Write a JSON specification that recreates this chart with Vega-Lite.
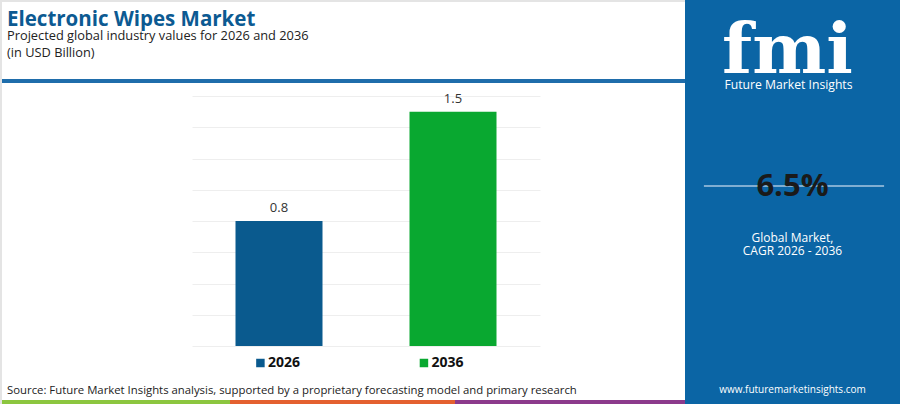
{
  "$schema": "https://vega.github.io/schema/vega-lite/v6.json",
  "description": "Electronic Wipes Market, projected global industry values for 2026 and 2036.",
  "background": "white",
  "padding": 0,
  "config": {
    "view": {"stroke": null},
    "font": "Open Sans",
    "concat": {"spacing": 0}
  },
  "datasets": {
    "market": [
      {"year": "2026", "value": 0.8},
      {"year": "2036", "value": 1.5}
    ]
  },
  "spacing": 0,
  "hconcat": [
    {"width": 2, "height": 404, "view": {"fill": "#e4e4e4"}, "data": {"values": []}, "mark": "point"},
    {
      "spacing": 0,
      "vconcat": [
        {"width": 683, "height": 2, "view": {"fill": "#e4e4e4"}, "data": {"values": []}, "mark": "point"},
        {"width": 683, "height": 7, "data": {"values": []}, "mark": "point"},
        {
          "width": 683,
          "height": 4,
          "view": {"fill": "#1f6dab"},
          "data": {"values": []},
          "mark": "point",
          "title": {
            "text": "Electronic Wipes Market",
            "subtitle": ["Projected global industry values for 2026 and 2036", "(in USD Billion)"],
            "anchor": "start",
            "dx": 5,
            "offset": 19,
            "font": "Open Sans",
            "fontSize": 20.5,
            "fontWeight": "bold",
            "color": "#0c5a92",
            "subtitleFont": "Open Sans",
            "subtitleFontSize": 12.8,
            "subtitleColor": "#222222",
            "subtitlePadding": 0,
            "subtitleLineHeight": 17
          }
        },
        {"width": 683, "height": 9, "data": {"values": []}, "mark": "point"},
        {
          "spacing": 0,
          "hconcat": [
            {"width": 190, "height": 250, "data": {"values": []}, "mark": "point"},
            {
              "width": 348,
              "height": 250,
              "data": {"name": "market"},
              "encoding": {
                "x": {
                  "field": "year",
                  "type": "nominal",
                  "axis": null,
                  "scale": {"paddingInner": 0.5, "paddingOuter": 0.25}
                },
                "y": {
                  "field": "value",
                  "type": "quantitative",
                  "scale": {"domain": [0, 1.6], "nice": false},
                  "axis": {
                    "values": [0, 0.2, 0.4, 0.6, 0.8, 1.0, 1.2, 1.4, 1.6],
                    "labels": false,
                    "ticks": false,
                    "domain": false,
                    "grid": true,
                    "gridColor": "#eeeeee",
                    "title": null
                  }
                }
              },
              "layer": [
                {
                  "mark": {"type": "bar"},
                  "encoding": {
                    "color": {
                      "field": "year",
                      "type": "nominal",
                      "scale": {"range": ["#0a5a8e", "#09a830"]},
                      "legend": null
                    }
                  }
                },
                {
                  "mark": {"type": "text", "baseline": "bottom", "dy": -6, "fontSize": 13, "color": "#333333"},
                  "encoding": {"text": {"field": "value", "type": "quantitative", "format": ".1f"}}
                }
              ]
            },
            {"width": 145, "height": 250, "data": {"values": []}, "mark": "point"}
          ]
        },
        {
          "spacing": 0,
          "hconcat": [
            {"width": 190, "height": 34, "data": {"values": []}, "mark": "point"},
            {
              "width": 348,
              "height": 34,
              "data": {"name": "market"},
              "encoding": {
                "x": {
                  "field": "year",
                  "type": "nominal",
                  "axis": null,
                  "scale": {"type": "point", "padding": 0.564, "align": 0.463}
                }
              },
              "layer": [
                {
                  "mark": {"type": "point", "shape": "square", "filled": true, "size": 72, "opacity": 1},
                  "encoding": {
                    "color": {
                      "field": "year",
                      "type": "nominal",
                      "scale": {"range": ["#0a5a8e", "#09a830"]},
                      "legend": null
                    },
                    "xOffset": {"value": -17}
                  }
                },
                {
                  "mark": {"type": "text", "align": "left", "baseline": "middle", "dx": -9.5, "fontSize": 14, "fontWeight": "bold", "color": "#111111"},
                  "encoding": {"text": {"field": "year"}}
                }
              ]
            },
            {"width": 145, "height": 34, "data": {"values": []}, "mark": "point"}
          ]
        },
        {"width": 683, "height": 4, "data": {"values": []}, "mark": "point"},
        {
          "spacing": 0,
          "title": {
            "text": "Source: Future Market Insights analysis, supported by a proprietary forecasting model and primary research",
            "anchor": "start",
            "dx": 5,
            "offset": 4,
            "font": "Open Sans",
            "fontSize": 11.35,
            "fontWeight": "normal",
            "color": "#222222"
          },
          "hconcat": [
            {"width": 228, "height": 5, "view": {"fill": "#8cc63f"}, "data": {"values": []}, "mark": "point"},
            {"width": 225, "height": 5, "view": {"fill": "#e4602f"}, "data": {"values": []}, "mark": "point"},
            {"width": 230, "height": 5, "view": {"fill": "#8c3a8c"}, "data": {"values": []}, "mark": "point"}
          ]
        }
      ]
    },
    {
      "spacing": 0,
      "vconcat": [
        {
          "width": 215,
          "height": 166,
          "view": {"fill": "#0b65a5"},
          "data": {"values": [{"logo": "fmi", "brand": "Future Market Insights"}]},
          "layer": [
            {
              "mark": {"type": "text", "font": "DejaVu Serif", "fontWeight": "bold", "fontSize": 70, "color": "white", "baseline": "alphabetic", "dx": -5, "dy": -10},
              "encoding": {"text": {"field": "logo"}}
            },
            {
              "mark": {"type": "text", "fontSize": 12.2, "color": "white", "baseline": "alphabetic", "dx": -4, "dy": 6},
              "encoding": {"text": {"field": "brand"}}
            }
          ]
        },
        {
          "width": 215,
          "height": 40,
          "view": {"fill": "#0b65a5"},
          "data": {"values": [{"cagr": "6.5%"}]},
          "layer": [
            {
              "mark": {"type": "rule", "color": "#a9c7e2", "strokeWidth": 1.5},
              "encoding": {
                "x": {"datum": 0.088, "type": "quantitative", "scale": {"domain": [0, 1]}, "axis": null},
                "x2": {"datum": 0.926}
              }
            },
            {
              "mark": {"type": "text", "fontSize": 31, "fontWeight": "bold", "color": "#1a1a1a", "baseline": "alphabetic", "dy": 10},
              "encoding": {"text": {"field": "cagr"}}
            }
          ]
        },
        {
          "width": 215,
          "height": 76,
          "view": {"fill": "#0b65a5"},
          "data": {"values": [{"line1": "Global Market,", "line2": "CAGR 2026 - 2036"}]},
          "layer": [
            {
              "mark": {"type": "text", "fontSize": 12, "color": "white", "baseline": "alphabetic", "dy": -2},
              "encoding": {"text": {"field": "line1"}}
            },
            {
              "mark": {"type": "text", "fontSize": 12, "color": "white", "baseline": "alphabetic", "dy": 11},
              "encoding": {"text": {"field": "line2"}}
            }
          ]
        },
        {"width": 215, "height": 94, "view": {"fill": "#0b65a5"}, "data": {"values": []}, "mark": "point"},
        {
          "width": 215,
          "height": 28,
          "view": {"fill": "#0b65a5"},
          "data": {"values": [{"url": "www.futuremarketinsights.com"}]},
          "mark": {"type": "text", "fontSize": 10, "color": "white", "baseline": "alphabetic", "dy": 3},
          "encoding": {"text": {"field": "url"}}
        }
      ]
    }
  ]
}
